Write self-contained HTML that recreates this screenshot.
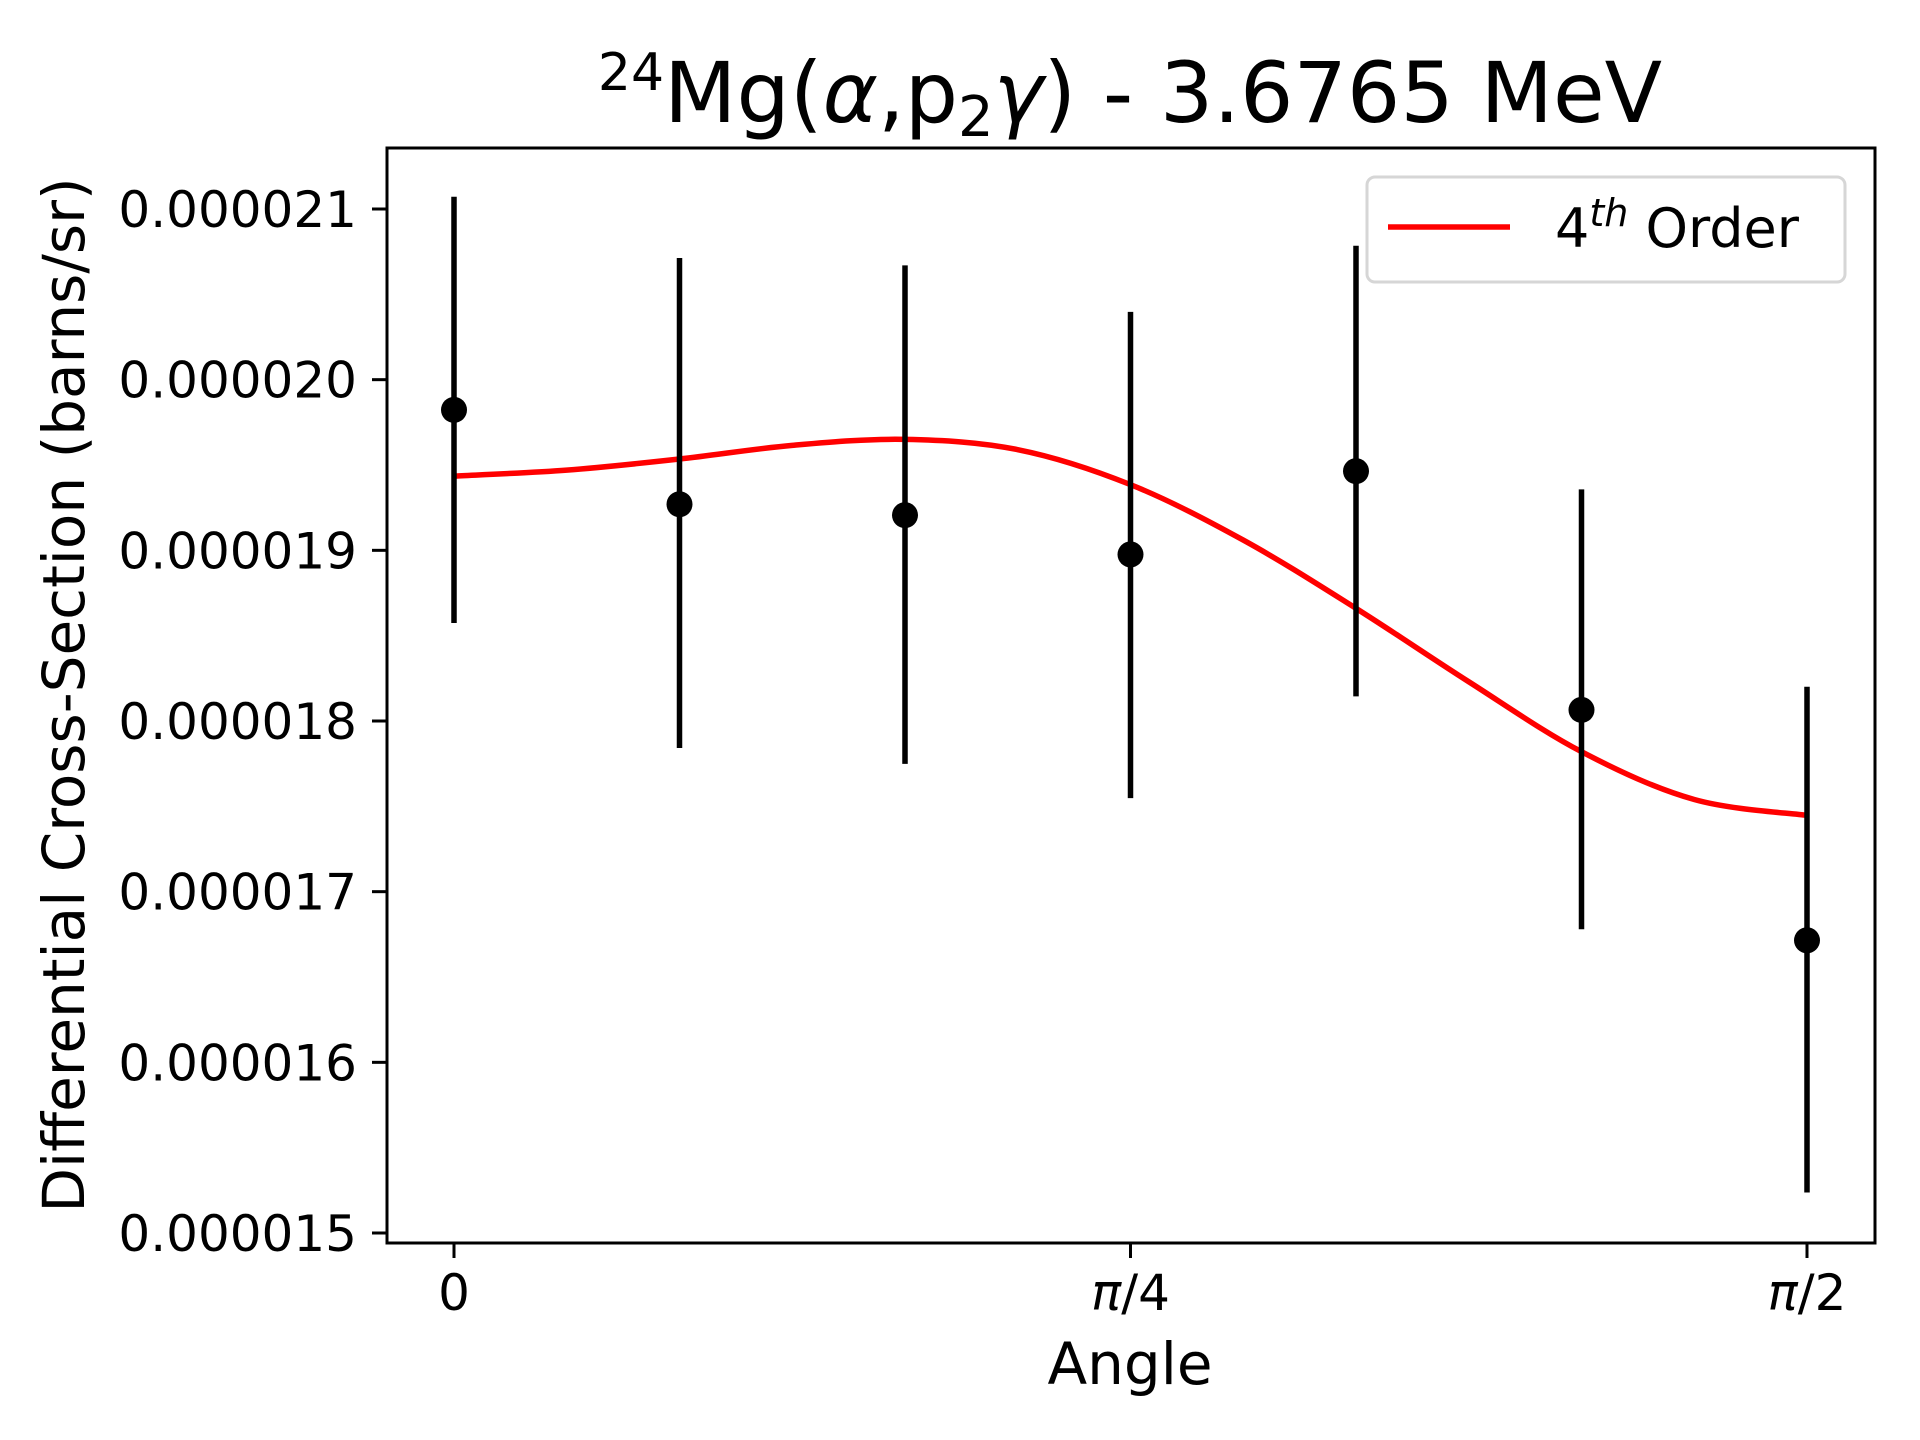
<!DOCTYPE html>
<html><head><meta charset="utf-8"><style>
html,body{margin:0;padding:0;background:#fff;}
svg{display:block;font-family:"DejaVu Sans","Liberation Sans",sans-serif;}
</style></head><body>
<svg id="chart" width="1920" height="1440" viewBox="0 0 1920 1440">
<rect width="1920" height="1440" fill="#fff"/>
<text x="1130" y="122" font-size="84" text-anchor="middle"><tspan font-size="52" dy="-32">24</tspan><tspan dy="32">Mg(</tspan><tspan font-style="italic">α</tspan><tspan>,p</tspan><tspan font-size="56" dy="14">2</tspan><tspan font-style="italic" dy="-14">γ</tspan><tspan>) - 3.6765 MeV</tspan></text>
<g id="plot"></g>
<rect x="387" y="148" width="1488" height="1095" fill="none" stroke="#000" stroke-width="3"/>
<text transform="translate(84,695) rotate(-90)" font-size="58" text-anchor="middle">Differential Cross-Section (barns/sr)</text>
<text x="1130" y="1384" font-size="58" text-anchor="middle">Angle</text>
<g>
<rect x="1367" y="177" width="478" height="105" rx="8" fill="#fff" stroke="#d6d6d6" stroke-width="3"/>
<line x1="1388" y1="227" x2="1510" y2="227" stroke="#ff0000" stroke-width="5.5"/>
<text x="1555" y="247" font-size="54">4<tspan font-style="italic" font-size="38" dy="-21">th</tspan><tspan dy="21"> Order</tspan></text>
</g>
</svg>
<script>
const angles = [0, 15, 30, 45, 60, 75, 90];
const values = [19.823, 19.270, 19.206, 18.976, 19.464, 18.065, 16.715];
const errHigh = [21.072, 20.713, 20.670, 20.397, 20.785, 19.357, 18.201];
const errLow = [18.574, 17.842, 17.749, 17.548, 18.144, 16.780, 15.237];
const fitAngles = [0, 7.5, 15, 22.5, 30, 37.5, 45, 52.5, 60, 67.5, 75, 82.5, 90];
const fitValues = [19.435, 19.47, 19.535, 19.615, 19.65, 19.59, 19.385, 19.06, 18.66, 18.23, 17.82, 17.54, 17.447];
const yTicks = [15, 16, 17, 18, 19, 20, 21];
const yTickLabels = ["0.000015","0.000016","0.000017","0.000018","0.000019","0.000020","0.000021"];
const xTicks = [0, 45, 90];
const xTickLabels = ["0", "/4", "/2"];

const NS = "http://www.w3.org/2000/svg";
const g = document.getElementById("plot");
const X = a => 454 + (a / 90) * (1807 - 454);
const Y = v => 1233 - (v - 15) * (1233 - 209) / 6;
function mk(tag, attrs, parent) {
  const e = document.createElementNS(NS, tag);
  for (const k in attrs) e.setAttribute(k, attrs[k]);
  (parent || g).appendChild(e);
  return e;
}
yTicks.forEach((t, i) => {
  const l = mk("line", {x1: 372, x2: 387, y1: Y(t), y2: Y(t), stroke: "#000", "stroke-width": 3});
  
  
  const tx = mk("text", {x: 357, y: Y(t) + 18, "font-size": 50, "text-anchor": "end"});
  tx.textContent = yTickLabels[i];
  
  
});
xTicks.forEach((t, i) => {
  const l = mk("line", {x1: X(t), x2: X(t), y1: 1243, y2: 1258, stroke: "#000", "stroke-width": 3});
  
  
  const tx = mk("text", {x: X(t), y: 1310, "font-size": 50, "text-anchor": "middle"});
  if (i > 0) {
    const p = mk("tspan", {"font-style": "italic"}, tx);
    p.textContent = "π";
    tx.appendChild(document.createTextNode(xTickLabels[i]));
  } else {
    tx.textContent = xTickLabels[i];
  }
  
  
});
const pts = fitAngles.map((a, i) => [X(a), Y(fitValues[i])]);
let d = "M" + pts[0][0] + "," + pts[0][1];
for (let i = 0; i < pts.length - 1; i++) {
  const p0 = pts[Math.max(i - 1, 0)], p1 = pts[i], p2 = pts[i + 1], p3 = pts[Math.min(i + 2, pts.length - 1)];
  const c1 = [p1[0] + (p2[0] - p0[0]) / 6, p1[1] + (p2[1] - p0[1]) / 6];
  const c2 = [p2[0] - (p3[0] - p1[0]) / 6, p2[1] - (p3[1] - p1[1]) / 6];
  d += " C" + c1.join(",") + " " + c2.join(",") + " " + p2.join(",");
}
const fit = mk("path", {d: d, fill: "none", stroke: "#ff0000", "stroke-width": 5.5});


angles.forEach((a, i) => {
  const e = mk("line", {x1: X(a), x2: X(a), y1: Y(errHigh[i]), y2: Y(errLow[i]), stroke: "#000", "stroke-width": 5.5});
  
  
  const c = mk("circle", {cx: X(a), cy: Y(values[i]), r: 13, fill: "#000"});
  
  
});
</script>
</body></html>
